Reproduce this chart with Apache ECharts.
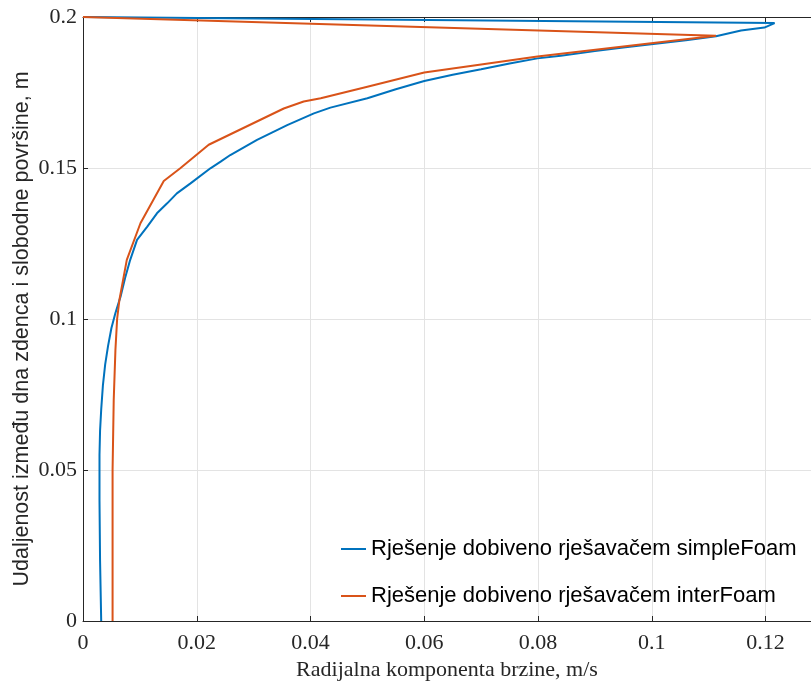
<!DOCTYPE html>
<html>
<head>
<meta charset="utf-8">
<script src="https://cdn.jsdelivr.net/npm/echarts@6/dist/echarts.min.js"></script>
<style>html,body{margin:0;padding:0;background:#fff}#c{width:811px;height:681px}</style>
</head>
<body>
<div id="c"></div>
<script>
const seriesNames = ['Rješenje dobiveno rješavačem simpleFoam', 'Rješenje dobiveno rješavačem interFoam'];
const xTicks = [0, 0.02, 0.04, 0.06, 0.08, 0.1, 0.12];
const yTicks = [0, 0.05, 0.1, 0.15, 0.2];
// simpleFoam: [radial velocity, height]
const simpleFoam = [
  [0.0032, 0], [0.0030, 0.02], [0.0029, 0.04], [0.0029, 0.055], [0.0030, 0.063],
  [0.0032, 0.070], [0.0035, 0.078], [0.0039, 0.085], [0.0044, 0.091], [0.0050, 0.097],
  [0.0057, 0.1020], [0.0066, 0.1074], [0.0074, 0.1136], [0.0083, 0.1196], [0.0095, 0.1262],
  [0.0113, 0.1306], [0.0130, 0.1350], [0.0148, 0.1383], [0.0165, 0.1416], [0.0189, 0.1449],
  [0.0224, 0.1499], [0.0242, 0.1521], [0.0259, 0.1543], [0.0306, 0.1593], [0.0333, 0.1618],
  [0.0359, 0.1642], [0.0383, 0.1662], [0.0406, 0.1681], [0.0435, 0.1700], [0.0500, 0.1731],
  [0.0550, 0.1761], [0.0600, 0.1788], [0.0650, 0.1809], [0.0700, 0.1827], [0.0750, 0.1846],
  [0.0799, 0.1863], [0.0840, 0.1872], [0.0900, 0.1887], [0.0950, 0.1899], [0.0999, 0.1910],
  [0.1060, 0.1923], [0.1113, 0.1936], [0.1157, 0.1955], [0.1198, 0.1965], [0.1216, 0.1980],
  [0, 0.2]
];
// interFoam: [radial velocity, height]
const interFoam = [
  [0.0052, 0], [0.0052, 0.05], [0.0054, 0.073], [0.0057, 0.0897], [0.0060, 0.1],
  [0.0064, 0.1063], [0.0077, 0.1196], [0.0101, 0.1317], [0.0142, 0.1457], [0.0171, 0.1499],
  [0.0221, 0.1577], [0.0353, 0.1697], [0.0388, 0.1720], [0.0418, 0.1731], [0.0500, 0.1769],
  [0.0600, 0.1816], [0.0700, 0.1843], [0.0799, 0.1869], [0.0999, 0.1913], [0.1113, 0.1938],
  [0, 0.2]
];

const fmt = v => {
  const r = Math.round(v * 1000) / 1000;
  return String(+r.toFixed(3));
};
const isTick = (v, arr) => arr.some(t => Math.abs(t - v) < 1e-9);

const chart = echarts.init(document.getElementById('c'), null, {renderer: 'canvas'});
const axisColor = '#262626';
const serif = 'Liberation Serif, Times New Roman, serif';
const sans = 'Liberation Sans, Arial, sans-serif';
chart.setOption({
  animation: false,
  backgroundColor: '#fff',
  grid: {left: 83, right: 0, top: 17, bottom: 60, containLabel: false, outerBoundsMode: 'none'},
  legend: {
    orient: 'vertical', left: 341, top: 538, itemGap: 25, itemWidth: 25, itemHeight: 2,
    icon: 'rect', padding: 0,
    textStyle: {fontFamily: sans, fontSize: 22, color: '#000'},
    data: seriesNames
  },
  xAxis: [{
    type: 'value', min: 0, max: 0.128, interval: 0.02,
    name: 'Radijalna komponenta brzine, m/s', nameLocation: 'middle', nameGap: 33,
    nameTextStyle: {fontFamily: serif, fontSize: 22, color: '#262626'},
    axisLine: {show: true, lineStyle: {color: axisColor, width: 1}},
    axisTick: {show: true, inside: true, length: 5, lineStyle: {color: axisColor}},
    axisLabel: {fontFamily: serif, fontSize: 22, color: '#262626', margin: 11,
      formatter: v => isTick(v, xTicks) ? fmt(v) : ''},
    splitLine: {show: true, lineStyle: {color: '#e3e3e3', width: 1}}
  }, {
    type: 'value', position: 'top', min: 0, max: 0.128, interval: 0.02,
    axisLine: {show: true, onZero: false, lineStyle: {color: axisColor, width: 1}},
    axisTick: {show: true, inside: true, length: 5, lineStyle: {color: axisColor}},
    axisLabel: {show: false}, splitLine: {show: false}
  }],
  yAxis: {
    type: 'value', min: 0, max: 0.2, interval: 0.05,
    name: 'Udaljenost između dna zdenca i slobodne površine, m', nameLocation: 'middle', nameGap: 50,
    nameMoveOverlap: false,
    nameTextStyle: {fontFamily: sans, fontSize: 21.5, color: '#262626', padding: [0, 20, 0, 0]},
    axisLine: {show: true, lineStyle: {color: axisColor, width: 1}},
    axisTick: {show: true, inside: true, length: 5, lineStyle: {color: axisColor}},
    axisLabel: {fontFamily: serif, fontSize: 22, color: '#262626', margin: 6,
      formatter: v => isTick(v, yTicks) ? fmt(v) : ''},
    splitLine: {show: true, lineStyle: {color: '#e3e3e3', width: 1}}
  },
  series: [
    {name: seriesNames[0], type: 'line', data: simpleFoam, symbol: 'none', smooth: false,
      lineStyle: {color: '#0072BD', width: 2}, itemStyle: {color: '#0072BD'}, z: 3},
    {name: seriesNames[1], type: 'line', data: interFoam, symbol: 'none', smooth: false,
      lineStyle: {color: '#D95319', width: 2}, itemStyle: {color: '#D95319'}, z: 4}
  ]
});
</script>
</body>
</html>
